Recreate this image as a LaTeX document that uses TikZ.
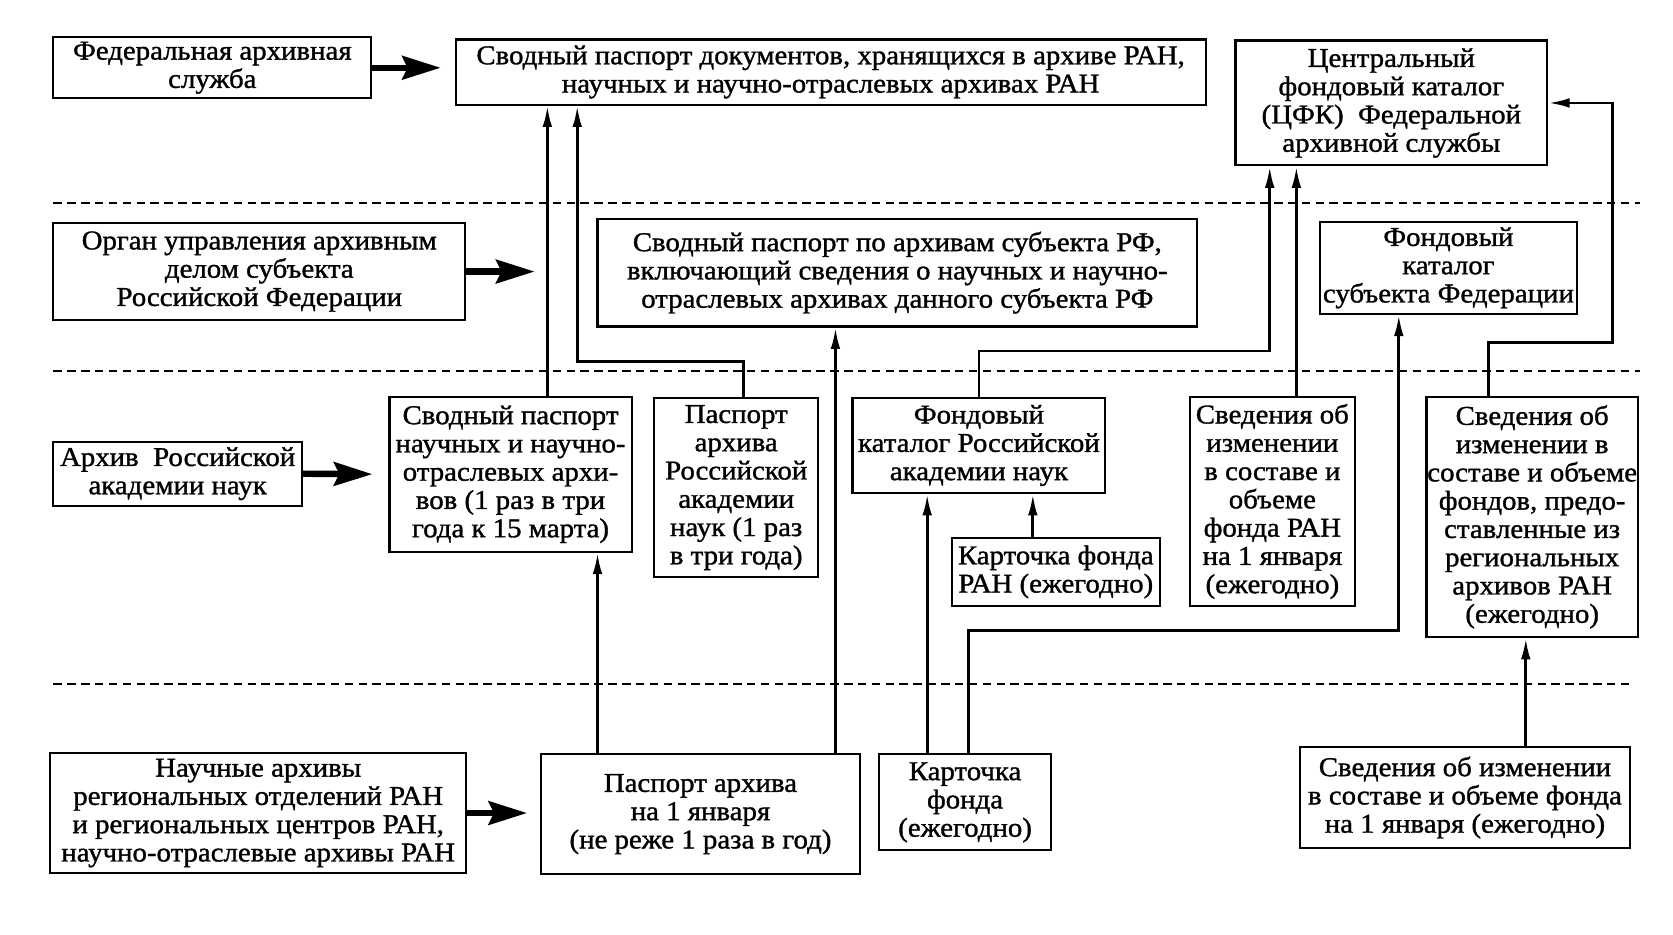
\documentclass[tikz,border=0pt]{standalone}
\usepackage{fontspec}
\setmainfont{Liberation Serif}[FakeBold=1.2, FakeStretch=1.06]
\usetikzlibrary{arrows.meta}

\tikzset{
  blok/.style={draw, line width=2pt, align=center, inner sep=0pt,
    font=\fontsize{25.5}{26.5}\selectfont},
  strelka/.style={line width=2.6pt, -{Latex[length=20pt,width=9pt]}},
  tolstaya/.style={line width=6pt, -{Stealth[length=36pt,width=22pt,inset=5pt]}},
  razdel/.style={line width=2pt, dash pattern=on 8pt off 5pt},
}

\begin{document}
\begin{tikzpicture}[x=1pt, y=-1pt]
    \useasboundingbox (0,0) rectangle (1568,876);

    % upper level
    \node[blok, minimum width=298pt, minimum height=57pt] (fed) at (199,63.5)
        {Федеральная архивная\\служба};
    \node[blok, minimum width=703pt, minimum height=61pt] (svtop) at (778.5,67.5)
        {Сводный паспорт документов, хранящихся в архиве РАН,\\
         научных и научно-отраслевых архивах РАН};
    \node[blok, minimum width=292pt, minimum height=117pt] (cfk) at (1304,96.5)
        {Центральный\\фондовый каталог\\(ЦФК)\ \ Федеральной\\архивной службы};
    \draw[razdel] (50,190) -- (1537,190);

    % level of the subject
    \node[blok, minimum width=386pt, minimum height=91pt] (organ) at (243,254.5)
        {Орган управления архивным\\делом субъекта\\Российской Федерации};
    \node[blok, minimum width=562pt, minimum height=101pt] (subj) at (841,255.5)
        {Сводный паспорт по архивам субъекта РФ,\\
         включающий сведения о научных и научно-\\
         отраслевых архивах данного субъекта РФ};
    \node[blok, minimum width=241pt, minimum height=86pt] (fksub) at (1357.5,251)
        {Фондовый\\каталог\\субъекта Федерации};
    \draw[razdel] (50,348) -- (1537,348);

    % level of the archive
    \node[blok, minimum width=233pt, minimum height=60pt] (ran) at (166.5,444)
        {Архив\ \ Российской\\академии наук};
    \node[blok, minimum width=227pt, minimum height=145pt] (svsci) at (478.5,444.5)
        {Сводный паспорт\\научных и научно-\\отраслевых архи-\\вов (1 раз в три\\года к 15 марта)};
    \node[blok, minimum width=154pt, minimum height=168pt] (pasran) at (690,457)
        {Паспорт\\архива\\Российской\\академии\\наук (1 раз\\в три года)};
    \node[blok, minimum width=237pt, minimum height=89pt] (fkran) at (917.5,417.5)
        {Фондовый\\каталог Российской\\академии наук};
    \node[blok, minimum width=195pt, minimum height=64pt] (kfran) at (989.5,536)
        {Карточка фонда\\РАН (ежегодно)};
    \node[blok, minimum width=155pt, minimum height=196pt] (svran) at (1192.5,470)
        {Сведения об\\изменении\\в составе и\\объеме\\фонда РАН\\на 1 января\\(ежегодно)};
    \node[blok, minimum width=198pt, minimum height=225pt] (svreg) at (1436,484.5)
        {Сведения об\\изменении в\\составе и объеме\\фондов, предо-\\ставленные из\\региональных\\архивов РАН\\(ежегодно)};
    \draw[razdel] (50,641) -- (1530,641);

    % regional level
    \node[blok, minimum width=390pt, minimum height=112pt] (nauch) at (242,762)
        {Научные архивы\\региональных отделений РАН\\и региональных центров РАН,\\научно-отраслевые архивы РАН};
    \node[blok, minimum width=299pt, minimum height=112pt] (pas1) at (656.5,763)
        {Паспорт архива\\на 1 января\\(не реже 1 раза в год)};
    \node[blok, minimum width=161pt, minimum height=90pt] (kf) at (904.5,752)
        {Карточка\\фонда\\(ежегодно)};
    \node[blok, minimum width=310pt, minimum height=95pt] (svizm) at (1373,747.5)
        {Сведения об изменении\\в составе и объеме фонда\\на 1 января (ежегодно)};

    % thick arrows from the bodies
    \coordinate (organcil) at ([xshift=64pt]organ.east);
    \draw[tolstaya, shorten >=13pt] (fed.east) -- (fed.east -| svtop.west);
    \draw[tolstaya] (organ.east) -- (organcil);
    \draw[tolstaya, shorten >=15pt] (ran.east) -- (svsci.west);
    \draw[tolstaya, shorten >=12pt] (nauch.east) -- (nauch.east -| pas1.west);

    % flows of documents
    \draw[strelka] ([xshift=34.5pt]svsci.north) -- ([xshift=34.5pt]svsci.north |- svtop.south);
    \draw[strelka] ([xshift=7pt]pasran.north) -- ++(0,-33) -| ([xshift=-237.5pt]svtop.south);
    \draw[strelka] ([xshift=-96.5pt]pas1.north) -- ([xshift=-96.5pt]pas1.north |- svsci.south);
    \draw[strelka] ([xshift=126.5pt]pas1.north) -- ([xshift=126.5pt]pas1.north |- subj.south);
    \draw[strelka] (fkran.north) -- ++(0,-43) -| ([xshift=-114pt]cfk.south);
    \draw[strelka] ([xshift=22.5pt]svran.north) -- ([xshift=22.5pt]svran.north |- cfk.south);
    \draw[strelka] ([xshift=-35.5pt]kf.north) -- ([xshift=-35.5pt]kf.north |- fkran.south);
    \draw[strelka] ([xshift=3.5pt]kf.north) -- ++(0,-115) -| ([xshift=-46.5pt]fksub.south);
    \draw[strelka] ([xshift=-21.5pt]kfran.north) -- ([xshift=-21.5pt]kfran.north |- fkran.south);
    \draw[strelka] ([xshift=-41pt]svreg.north) -- ++(0,-50) -| ([xshift=60pt]cfk.east) -- (cfk.east);
    \draw[strelka] ([xshift=57pt]svizm.north) -- ([xshift=57pt]svizm.north |- svreg.south);
\end{tikzpicture}
\end{document}
